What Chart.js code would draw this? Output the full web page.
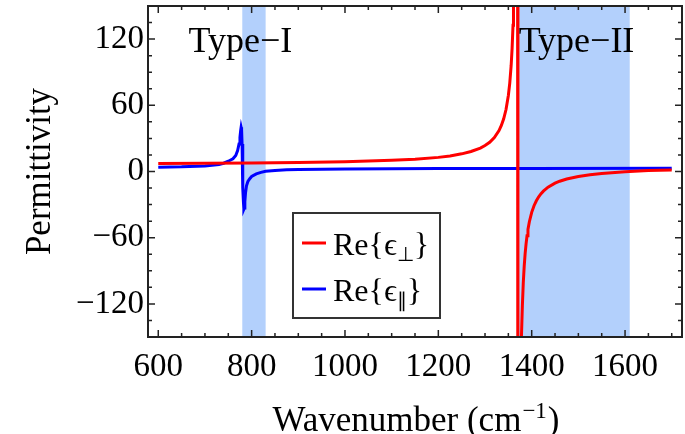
<!DOCTYPE html>
<html>
<head>
<meta charset="utf-8">
<script src="https://cdn.jsdelivr.net/npm/chart.js@4.4.0/dist/chart.umd.min.js"></script>
<style>
  html, body { margin: 0; padding: 0; background: #fff; }
  #wrap { width: 685px; height: 434px; position: relative; }
</style>
</head>
<body>
<div id="wrap"><canvas id="chart"></canvas></div>
<script>
'use strict';

// ===== DATA =====
// Re{eps_perp}
const PERP_X = [600, 700, 800, 900, 1000, 1100, 1150, 1200, 1225, 1250, 1270, 1290, 1300, 1310, 1320, 1330, 1335,
  1340, 1345, 1350, 1353, 1356, 1358, 1360, 1361, 1364, 1366, 1369.5, 1370.5, 1374, 1376, 1378, 1380, 1382, 1384,
  1386, 1388, 1390, 1392, 1395, 1400, 1405, 1410, 1415, 1420, 1425, 1435, 1450, 1460, 1475, 1500, 1525, 1550,
  1600, 1650, 1700];
const PERP_Y = [7.2, 7.4, 7.7, 8.1, 8.8, 10.1, 11.2, 12.8, 14.1, 16.0, 18.1, 21.2, 23.5, 26.5, 30.8, 37.1, 41.7,
  47.7, 56.2, 68.9, 80.1, 96.1, 111.3, 132.5, 150, 217, 323, 450, -450, -312, -206, -150, -121.8, -100.6, -85.5,
  -74.1, -65.3, -58.2, -52.5, -45.5, -37.0, -31.0, -26.5, -22.9, -20.1, -17.8, -14.2, -10.6, -8.8, -6.8, -4.5, -2.9, -1.8,
  -0.2, 0.8, 1.4];

// Re{eps_par}
const PAR_X = [600, 650, 700, 730, 740, 750, 760, 766, 770, 773, 775, 776.5, 777.5, 778.5, 779.5, 780.5, 781.5,
  782.5, 783.5, 784.5, 785.5, 787, 789, 792, 796, 800, 810, 820, 830, 850, 875, 900, 950, 1000, 1100, 1200, 1400, 1700];
const PAR_Y = [3.9, 4.2, 5.0, 6.3, 7.5, 9.3, 11.5, 14.5, 19, 25, 31, 37, 40, 38, 25, 5, -15,
  -28, -34, -33, -27, -19, -13, -9, -6.5, -4.5, -2.2, -0.8, 0.2, 1.0, 1.5, 1.8, 2.1, 2.3, 2.55, 2.65, 2.77, 2.85];

// shaded hyperbolic bands
const BANDS = [[780, 830], [1370, 1610]];
const BAND_LABELS = ['Type\u2212I', 'Type\u2212II'];

const X_TICKS = [600, 800, 1000, 1200, 1400, 1600];
const Y_TICKS = [-120, -60, 0, 60, 120];
const X_MINOR_STEP = 50;
const Y_MINOR_STEP = 15;

const SERIF = "'Liberation Serif', 'Times New Roman', serif";

function zip(xs, ys) {
  return xs.map((x, i) => ({ x, y: ys[i] }));
}
function minusSign(v) {
  return v < 0 ? '\u2212' + Math.abs(v) : String(v);
}

// ===== PLUGINS =====
const bandsPlugin = {
  id: 'bands',
  beforeDatasetsDraw(chart) {
    const { ctx, chartArea: a, scales: { x } } = chart;
    ctx.save();
    ctx.fillStyle = 'rgb(179,208,252)';
    BANDS.forEach(([lo, hi]) => {
      const x0 = x.getPixelForValue(lo);
      const x1 = x.getPixelForValue(hi);
      ctx.fillRect(x0, a.top, x1 - x0, a.bottom - a.top);
    });
    ctx.restore();
  },
  afterDatasetsDraw(chart) {
    const { ctx, scales: { x, y } } = chart;
    // band labels, anchored in data coordinates
    const anchors = [[665, 108], [1372, 108]];
    ctx.save();
    ctx.fillStyle = '#000';
    ctx.font = `36px ${SERIF}`;
    ctx.textBaseline = 'alphabetic';
    ctx.textAlign = 'left';
    BAND_LABELS.forEach((t, i) => {
      ctx.fillText(t, x.getPixelForValue(anchors[i][0]), y.getPixelForValue(anchors[i][1]));
    });
    ctx.restore();
  }
};

const framePlugin = {
  id: 'frame',
  afterDraw(chart) {
    const { ctx, chartArea: a, scales: { x, y } } = chart;
    ctx.save();
    ctx.strokeStyle = '#222';
    ctx.lineWidth = 1.5;

    const big = 7, small = 4;
    ctx.beginPath();
    for (let v = 600; v <= 1700; v += X_MINOR_STEP) {
      const px = x.getPixelForValue(v);
      const len = X_TICKS.includes(v) ? big : small;
      ctx.moveTo(px, a.bottom); ctx.lineTo(px, a.bottom - len);
      ctx.moveTo(px, a.top); ctx.lineTo(px, a.top + len);
    }
    for (let v = -150; v <= 150; v += Y_MINOR_STEP) {
      const py = y.getPixelForValue(v);
      const len = Y_TICKS.includes(v) ? big : small;
      ctx.moveTo(a.left, py); ctx.lineTo(a.left + len, py);
      ctx.moveTo(a.right, py); ctx.lineTo(a.right - len, py);
    }
    ctx.stroke();

    ctx.lineWidth = 2;
    ctx.strokeRect(a.left, a.top, a.right - a.left, a.bottom - a.top);

    // axis titles
    ctx.fillStyle = '#000';
    ctx.font = `35px ${SERIF}`;
    const main = 'Wavenumber (cm';
    const sup = '\u22121';
    const tail = ')';
    const wMain = ctx.measureText(main).width;
    const wTail = ctx.measureText(tail).width;
    ctx.font = `23px ${SERIF}`;
    const wSup = ctx.measureText(sup).width;
    const cx = (a.left + a.right) / 2;
    let tx = cx - (wMain + wSup + wTail) / 2;
    const base = 431;
    ctx.textAlign = 'left';
    ctx.textBaseline = 'alphabetic';
    ctx.font = `35px ${SERIF}`;
    ctx.fillText(main, tx, base);
    tx += wMain;
    ctx.font = `23px ${SERIF}`;
    ctx.fillText(sup, tx + 1, base - 13);
    tx += wSup + 2;
    ctx.font = `35px ${SERIF}`;
    ctx.fillText(tail, tx, base);

    ctx.translate(50, (a.top + a.bottom) / 2);
    ctx.rotate(-Math.PI / 2);
    ctx.textAlign = 'center';
    ctx.fillText('Permittivity', 0, 0);
    ctx.restore();
  }
};

const legendPlugin = {
  id: 'boxLegend',
  afterDraw(chart) {
    const { ctx } = chart;
    const box = { left: 293, top: 213, right: 440, bottom: 318 };
    ctx.save();
    ctx.fillStyle = '#fff';
    ctx.fillRect(box.left, box.top, box.right - box.left, box.bottom - box.top);
    ctx.strokeStyle = '#333';
    ctx.lineWidth = 2;
    ctx.strokeRect(box.left, box.top, box.right - box.left, box.bottom - box.top);

    const rows = [243, 289];
    chart.data.datasets.forEach((ds, i) => {
      const yl = rows[i];
      ctx.strokeStyle = ds.borderColor;
      ctx.lineWidth = 3;
      ctx.beginPath();
      ctx.moveTo(302, yl); ctx.lineTo(326, yl);
      ctx.stroke();

      const base = yl + 12;
      let tx = 333;
      ctx.fillStyle = '#000';
      ctx.textAlign = 'left';
      ctx.textBaseline = 'alphabetic';
      ctx.font = `32px ${SERIF}`;
      ctx.fillText(ds.label, tx, base);
      tx += ctx.measureText(ds.label).width;
      ctx.font = `20px ${SERIF}`;
      ctx.fillText(ds.sub, tx, base + 6);
      tx += ctx.measureText(ds.sub).width;
      ctx.font = `32px ${SERIF}`;
      ctx.fillText('}', tx, base);
    });
    ctx.restore();
  }
};

// ===== CHART =====
const chart = new Chart(document.getElementById('chart'), {
  type: 'line',
  data: {
    datasets: [
      {
        label: 'Re{\u03f5',
        sub: '\u22a5',
        data: zip(PERP_X, PERP_Y),
        borderColor: '#ff0000',
        borderWidth: 3,
        pointRadius: 0,
        tension: 0
      },
      {
        label: 'Re{\u03f5',
        sub: '\u2225',
        data: zip(PAR_X, PAR_Y),
        borderColor: '#0000ff',
        borderWidth: 3,
        pointRadius: 0,
        tension: 0
      }
    ]
  },
  options: {
    responsive: true,
    maintainAspectRatio: false,
    animation: false,
    events: [],
    layout: { padding: { top: 6, right: 3, left: 0, bottom: 0 } },
    plugins: { legend: { display: false }, tooltip: { enabled: false } },
    scales: {
      x: {
        type: 'linear',
        min: 578,
        max: 1722,
        grid: { display: false, drawTicks: false },
        border: { display: false },
        afterBuildTicks(s) { s.ticks = X_TICKS.map(v => ({ value: v })); },
        afterFit(s) {
          s.height = 97;
          s.paddingLeft = 0;
          s.paddingRight = 0;
        },
        ticks: {
          color: '#000',
          padding: 11,
          maxRotation: 0,
          font: { family: SERIF, size: 33 },
          callback: v => String(v)
        }
      },
      y: {
        type: 'linear',
        min: -150,
        max: 150,
        grid: { display: false, drawTicks: false },
        border: { display: false },
        afterBuildTicks(s) { s.ticks = Y_TICKS.map(v => ({ value: v })); },
        afterFit(s) {
          s.width = 148;
          s.paddingTop = 0;
          s.paddingBottom = 0;
        },
        ticks: {
          color: '#000',
          padding: 4,
          font: { family: SERIF, size: 33 },
          callback: v => minusSign(v)
        }
      }
    }
  },
  plugins: [bandsPlugin, framePlugin, legendPlugin]
});
</script>
</body>
</html>
